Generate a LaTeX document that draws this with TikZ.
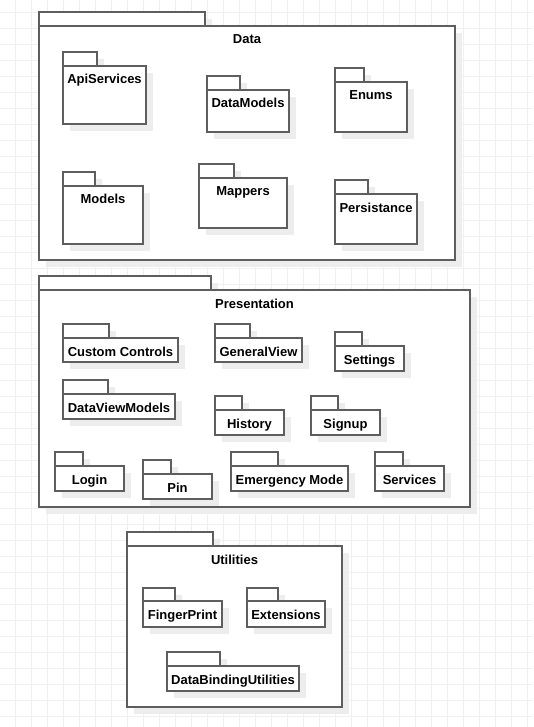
\documentclass[tikz,border=0pt]{standalone}
\usepackage{fontspec}
\setmainfont{Liberation Sans}
\definecolor{gridc}{HTML}{F0F0F0}
\definecolor{shadowc}{HTML}{EDEDED}
\definecolor{strokec}{HTML}{5E5E5E}
\tikzset{
  gridline/.style={draw=gridc, line width=0.8pt},
  pkgshadow/.style={fill=shadowc, draw=none, inner sep=0pt, outer sep=0pt},
  pkgpart/.style={fill=white, draw=strokec, line width=1.3pt, inner sep=0pt, outer sep=0pt},
  pkglabel/.style={font=\bfseries\fontsize{13}{15}\selectfont, text=black, inner sep=0pt},
}
% #1 name, #2 x1, #3 tab right, #4 tab top, #5 body top, #6 x2, #7 bottom, #8 label
\newcommand\pkgshape[8]{%
  \pgfmathsetmacro\pkgtw{#3-#2}%
  \pgfmathsetmacro\pkgth{#5-#4}%
  \pgfmathsetmacro\pkgbw{#6-#2}%
  \pgfmathsetmacro\pkgbh{#7-#5}%
  \node[pkgshadow, minimum width=\pkgtw pt, minimum height=\pkgth pt, anchor=north west] (#1-tabshadow) at (#2+7,#4+7) {};
  \node[pkgshadow, minimum width=\pkgbw pt, minimum height=\pkgbh pt, anchor=north west] (#1-shadow) at (#2+7,#5+7) {};
  \node[pkgpart, minimum width=\pkgtw pt, minimum height=\pkgth pt, anchor=north west] (#1-tab) at (#2,#4) {};
  \node[pkgpart, minimum width=\pkgbw pt, minimum height=\pkgbh pt, anchor=north west] (#1) at (#2,#5) {};
  \node[pkglabel, anchor=base] (#1-label) at ({(#2+#6)/2},#5+18) {#8};
}
\begin{document}
\begin{tikzpicture}[x=1pt,y=-1pt]
\fill[white] (0,0) rectangle (533,727);
\useasboundingbox (0,0) rectangle (533,727);
\foreach \gx in {15,31,...,527} \draw[gridline] (\gx,0) -- (\gx,727);
\foreach \gy in {12,28,...,716} \draw[gridline] (0,\gy) -- (533,\gy);

% Data
\pkgshape{data}{39}{205}{12}{26}{455}{260}{Data}
\pkgshape{api}{63}{97}{52}{66}{146}{124}{ApiServices}
\pkgshape{datamodels}{207}{240}{76}{90}{289}{132}{DataModels}
\pkgshape{enums}{335}{364}{68}{82}{407}{132}{Enums}
\pkgshape{models}{63}{95}{172}{186}{143}{244}{Models}
\pkgshape{mappers}{199}{234}{164}{178}{287}{228}{Mappers}
\pkgshape{persist}{335}{368}{180}{194}{417}{244}{Persistance}

% Presentation
\pkgshape{pres}{39}{211}{276}{290}{470}{507}{Presentation}
\pkgshape{custom}{63}{109}{324}{338}{178}{362}{Custom Controls}
\pkgshape{general}{215}{250}{324}{338}{302}{362}{GeneralView}
\pkgshape{settings}{335}{362}{332}{346}{404}{371}{Settings}
\pkgshape{dvm}{63}{108}{380}{394}{175}{419}{DataViewModels}
\pkgshape{history}{215}{242}{396}{410}{284}{435}{History}
\pkgshape{signup}{311}{338}{396}{410}{380}{435}{Signup}
\pkgshape{login}{55}{83}{452}{466}{124}{491}{Login}
\pkgshape{pin}{143}{171}{460}{474}{212}{499}{Pin}
\pkgshape{emergency}{231}{278}{452}{466}{348}{491}{Emergency Mode}
\pkgshape{services}{375}{403}{452}{466}{444}{491}{Services}

% Utilities
\pkgshape{util}{127}{213}{532}{546}{342}{707}{Utilities}
\pkgshape{finger}{143}{175}{588}{601}{222}{627}{FingerPrint}
\pkgshape{ext}{247}{278}{588}{601}{325}{627}{Extensions}
\pkgshape{dbu}{167}{220}{652}{666}{299}{691}{DataBindingUtilities}
\end{tikzpicture}
\end{document}
